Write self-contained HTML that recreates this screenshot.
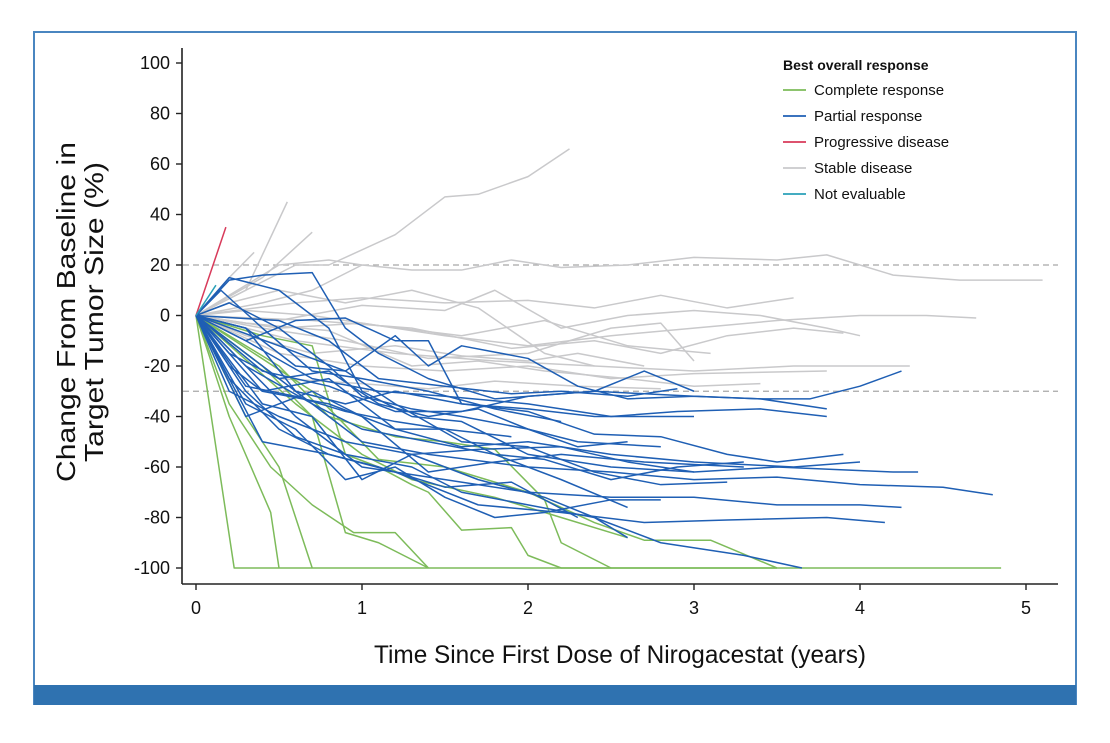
<!DOCTYPE html>
<html><head><meta charset="utf-8"><style>
body{margin:0;background:#fff;}
svg{display:block;font-family:"Liberation Sans",sans-serif;}
</style></head><body>
<svg width="1110" height="743" viewBox="0 0 1110 743">
<rect x="34" y="32" width="1042" height="672" fill="#fff" stroke="#4a86c0" stroke-width="2"/>
<rect x="34" y="685" width="1042" height="20" fill="#2f72b0"/>
<g id="plot"></g>
<g id="axes"></g>
<g id="legend"></g>
<text x="620" y="663" text-anchor="middle" font-size="25" fill="#111" textLength="492" lengthAdjust="spacingAndGlyphs">Time Since First Dose of Nirogacestat (years)</text>
<g transform="translate(0,312) rotate(-90)">
<text x="0" y="75" text-anchor="middle" font-size="26" fill="#111" textLength="340" lengthAdjust="spacingAndGlyphs">Change From Baseline in</text>
<text x="0" y="103" text-anchor="middle" font-size="26" fill="#111" textLength="300" lengthAdjust="spacingAndGlyphs">Target Tumor Size (%)</text>
</g>
</svg>
<script>
const xTicks=[0,1,2,3,4,5];
const yTicks=[100,80,60,40,20,0,-20,-40,-60,-80,-100];
const refLines=[20,-30];
const responseNames=["Complete response","Partial response","Progressive disease","Stable disease","Not evaluable"];
const colors={CR:"#7dbb5a",PR:"#1f5fb4",PD:"#d83a5a",SD:"#c9c9cb",NE:"#2aa0b8"};
const legendKeys=["CR","PR","PD","SD","NE"];
const sdSeries=[
[[0,0],[0.3,10],[0.6,20],[0.8,20],[1.2,32],[1.5,47],[1.7,48],[2.0,55],[2.25,66]],
[[0,0],[0.4,5],[0.7,10],[1.0,20],[1.3,18],[1.6,18],[1.9,22],[2.2,19],[2.6,20],[3.0,23],[3.5,22],[3.8,24],[4.2,16],[4.6,14],[5.1,14]],
[[0,0],[0.3,10],[0.55,45]],
[[0,0],[0.2,15],[0.35,25]],
[[0,0],[0.4,15],[0.7,33]],
[[0,0],[0.6,5],[1.0,7],[1.5,5],[2.0,6],[2.4,3],[2.8,8],[3.2,3],[3.6,7]],
[[0,0],[0.5,-2],[1.0,4],[1.5,2],[1.8,10],[2.2,-5],[2.6,0],[3.0,2],[3.4,0],[3.8,-5],[4.0,-8]],
[[0,0],[0.5,-5],[1.0,-3],[1.5,-8],[2.0,-12],[2.5,-8],[3.0,-5],[3.5,-2],[4.0,0],[4.4,0],[4.7,-1]],
[[0,0],[0.6,-10],[1.2,-15],[1.8,-18],[2.4,-20],[3.0,-22],[3.6,-20],[4.3,-20]],
[[0,0],[0.5,-15],[1.0,-20],[1.5,-22],[2.0,-20],[2.5,-25],[3.0,-23],[3.8,-22]],
[[0,0],[0.4,-5],[0.9,-10],[1.4,-17],[2.0,-15],[2.5,-5],[2.8,-3],[3.0,-18]],
[[0,0],[0.7,-2],[1.3,-5],[1.9,-13],[2.4,-10],[2.8,-15],[3.2,-8],[3.6,-5],[3.9,-7]],
[[0,0],[0.3,-3],[0.8,-6],[1.3,-20],[1.7,-18],[2.1,-22],[2.6,-25],[3.0,-28],[3.4,-27]],
[[0,0],[0.5,-25],[1.0,-27],[1.4,-29],[1.8,-26],[2.3,-28],[2.8,-29]],
[[0,0],[0.2,5],[0.5,10],[0.9,5],[1.3,10],[1.7,3],[2.1,-15],[2.4,-20]],
[[0,0],[0.3,-8],[0.7,-15],[1.2,-12],[1.6,-16],[2.0,-18],[2.3,-15],[2.7,-20]],
[[0,0],[0.2,8],[0.5,20],[0.8,22],[1.0,20]],
[[0,0],[0.3,2],[0.7,0],[1.1,-4],[1.6,-8],[2.1,-2],[2.6,-12],[3.1,-15]]
];
const crSeries=[
[[0,0],[0.23,-100],[4.85,-100]],
[[0,0],[0.2,-40],[0.45,-78],[0.5,-100]],
[[0,0],[0.2,-35],[0.45,-60],[0.7,-75],[0.95,-86],[1.2,-86],[1.4,-100]],
[[0,0],[0.3,-40],[0.5,-60],[0.7,-100]],
[[0,0],[0.4,-20],[0.7,-40],[0.9,-86],[1.1,-90],[1.4,-100]],
[[0,0],[0.4,-8],[0.7,-12],[0.9,-55],[1.1,-60],[1.3,-67],[1.4,-70],[1.6,-85],[1.9,-84],[2.0,-95],[2.2,-100],[3.5,-100]],
[[0,0],[0.5,-20],[0.8,-40],[1.2,-48],[1.5,-50],[1.8,-53],[2.1,-73],[2.2,-90],[2.5,-100]],
[[0,0],[0.7,-30],[1.1,-57],[1.5,-60],[2.0,-70],[2.4,-82],[2.7,-89],[3.1,-89],[3.5,-100]],
[[0,0],[0.6,-35],[1.0,-55],[1.3,-65],[1.8,-72],[2.2,-80],[2.6,-88]]
];
const prSeries=[
[[0,0],[0.2,14],[0.4,16],[0.7,17],[0.9,-5],[1.1,-15],[1.4,-25],[1.8,-33],[2.4,-30],[3.0,-32],[3.4,-33],[3.7,-33],[4.0,-28],[4.25,-22]],
[[0,0],[0.2,15],[0.5,10],[0.8,-5],[1.0,-30],[1.3,-40],[1.6,-42],[2.0,-55],[2.5,-60],[3.0,-62],[3.5,-60],[4.2,-62],[4.35,-62]],
[[0,0],[0.3,-5],[0.6,-20],[0.9,-22],[1.2,-8],[1.4,-20],[1.6,-12],[2.0,-17],[2.3,-28],[2.6,-33],[3.0,-32],[3.4,-33],[3.8,-37]],
[[0,0],[0.3,-10],[0.6,-2],[0.9,-1],[1.2,-10],[1.4,-10],[1.6,-35],[2.0,-38],[2.4,-47],[2.8,-48],[3.2,-55],[3.5,-58],[3.9,-55]],
[[0,0],[0.3,-15],[0.6,-30],[1.0,-50],[1.4,-55],[2.0,-60],[2.5,-62],[3.0,-65],[3.5,-64],[4.0,-67],[4.5,-68],[4.8,-71]],
[[0,0],[0.3,-20],[0.6,-40],[1.0,-60],[1.5,-65],[2.0,-70],[2.5,-72],[3.0,-72],[3.5,-75],[4.0,-75],[4.25,-76]],
[[0,0],[0.2,-25],[0.5,-45],[0.8,-55],[1.2,-62],[1.7,-75],[2.2,-78],[2.7,-82],[3.2,-81],[3.8,-80],[4.15,-82]],
[[0,0],[0.3,-30],[0.6,-48],[0.9,-55],[1.3,-60],[1.6,-70],[2.0,-75],[2.4,-80],[2.8,-90],[3.3,-95],[3.65,-100]],
[[0,0],[0.4,-30],[0.8,-35],[1.2,-45],[1.6,-52],[2.0,-50],[2.5,-55],[3.0,-58],[3.6,-60],[4.0,-58]],
[[0,0],[0.3,-10],[0.7,-25],[1.1,-30],[1.5,-32],[2.0,-35],[2.5,-40],[2.9,-38],[3.4,-37],[3.8,-40]],
[[0,0],[0.4,-22],[0.8,-28],[1.2,-38],[1.6,-38],[2.0,-32],[2.4,-30],[2.7,-22],[3.0,-30]],
[[0,0],[0.2,-30],[0.5,-40],[0.9,-50],[1.3,-55],[1.7,-53],[2.2,-52],[2.6,-58],[3.0,-62]],
[[0,0],[0.3,-35],[0.6,-45],[0.9,-65],[1.2,-60],[1.5,-72],[1.8,-80],[2.1,-78],[2.5,-73],[2.8,-73]],
[[0,0],[0.4,-50],[0.8,-55],[1.1,-60],[1.5,-68],[1.9,-66],[2.3,-80]],
[[0,0],[0.5,-12],[0.9,-22],[1.2,-35],[1.6,-50],[2.0,-52],[2.4,-62],[2.8,-67],[3.2,-66]],
[[0,0],[0.3,-40],[0.7,-30],[1.0,-40],[1.4,-62],[1.8,-58],[2.2,-55],[2.7,-58],[3.3,-60]],
[[0,0],[0.2,5],[0.5,-5],[0.8,-20],[1.0,-32],[1.3,-37],[1.6,-40],[2.0,-45],[2.3,-52],[2.6,-50]],
[[0,0],[0.3,-20],[0.7,-35],[1.0,-45],[1.4,-50],[1.8,-55],[2.1,-57],[2.5,-65],[2.9,-60],[3.3,-58]],
[[0,0],[0.5,-2],[0.8,-10],[1.1,-25],[1.5,-28],[1.9,-31],[2.2,-30],[2.6,-32],[2.9,-29]],
[[0,0],[0.2,-20],[0.4,-30],[0.8,-25],[1.2,-45],[1.5,-45],[1.8,-55],[2.2,-65],[2.6,-76]],
[[0,0],[0.3,-28],[0.6,-32],[0.9,-38],[1.2,-42],[1.5,-45],[1.9,-48]],
[[0,0],[0.4,-35],[0.7,-40],[1.0,-65],[1.3,-55],[1.7,-65],[2.1,-72],[2.4,-80],[2.6,-88]],
[[0,0],[0.3,-5],[0.6,-30],[0.9,-35],[1.2,-30],[1.6,-35],[2.0,-37],[2.4,-40],[3.0,-40]],
[[0,0],[0.2,-15],[0.5,-25],[0.8,-22],[1.1,-35],[1.4,-40],[1.7,-37],[2.0,-45],[2.3,-50],[2.8,-52]],
[[0,0],[0.15,10],[0.4,-5],[0.7,-22],[1.0,-25],[1.4,-30],[1.8,-37],[2.2,-42]]
];
const pdSeries=[[[0,0],[0.18,35]]];
const neSeries=[[[0,0],[0.12,12]]];

const NS="http://www.w3.org/2000/svg";
const X0=196,XS=166,Y0=315.5,YS=2.525;
function xs(t){return X0+t*XS;}
function ys(v){return Y0-v*YS;}
function mk(tag,attrs,parent){const e=document.createElementNS(NS,tag);for(const k in attrs)e.setAttribute(k,attrs[k]);parent.appendChild(e);return e;}
const plot=document.getElementById('plot'),axes=document.getElementById('axes'),legend=document.getElementById('legend');
refLines.forEach(v=>{
  const l=mk('line',{x1:183,x2:1058,y1:ys(v),y2:ys(v),stroke:'#a8a8a8','stroke-width':1.3,'stroke-dasharray':'6,4'},plot);
  
  
});
function draw(list,key){
  list.forEach((s,i)=>{
    const p=mk('polyline',{points:s.map(d=>xs(d[0])+','+ys(d[1])).join(' '),fill:'none',stroke:colors[key],'stroke-width':1.5,'stroke-linejoin':'round'},plot);
    
    
  });
}
draw(sdSeries,'SD');draw(crSeries,'CR');draw(prSeries,'PR');draw(pdSeries,'PD');draw(neSeries,'NE');
mk('line',{x1:182,x2:182,y1:48,y2:584,stroke:'#222','stroke-width':1.6},axes);
mk('line',{x1:182,x2:1058,y1:584,y2:584,stroke:'#222','stroke-width':1.6},axes);
yTicks.forEach(v=>{
  mk('line',{x1:176,x2:182,y1:ys(v),y2:ys(v),stroke:'#222','stroke-width':1.4},axes);
  const t=mk('text',{x:170,y:ys(v)+6,'text-anchor':'end','font-size':18,fill:'#111'},axes);
  t.textContent=v;
  
  
});
xTicks.forEach(v=>{
  mk('line',{x1:xs(v),x2:xs(v),y1:584,y2:590,stroke:'#222','stroke-width':1.4},axes);
  const t=mk('text',{x:xs(v),y:614,'text-anchor':'middle','font-size':18,fill:'#111'},axes);
  t.textContent=v;
  
  
});
const h=mk('text',{x:783,y:70,'font-size':14,'font-weight':'bold',fill:'#111'},legend);
h.textContent='Best overall response';


legendKeys.forEach((k,i)=>{
  const y=90+i*26;
  const g=mk('g',{},legend);
  
  
  mk('line',{x1:783,x2:806,y1:y,y2:y,stroke:colors[k],'stroke-width':1.8},g);
  const t=mk('text',{x:814,y:y+5,'font-size':15,fill:'#111'},g);
  t.textContent=responseNames[i];
});
</script>
</body></html>
